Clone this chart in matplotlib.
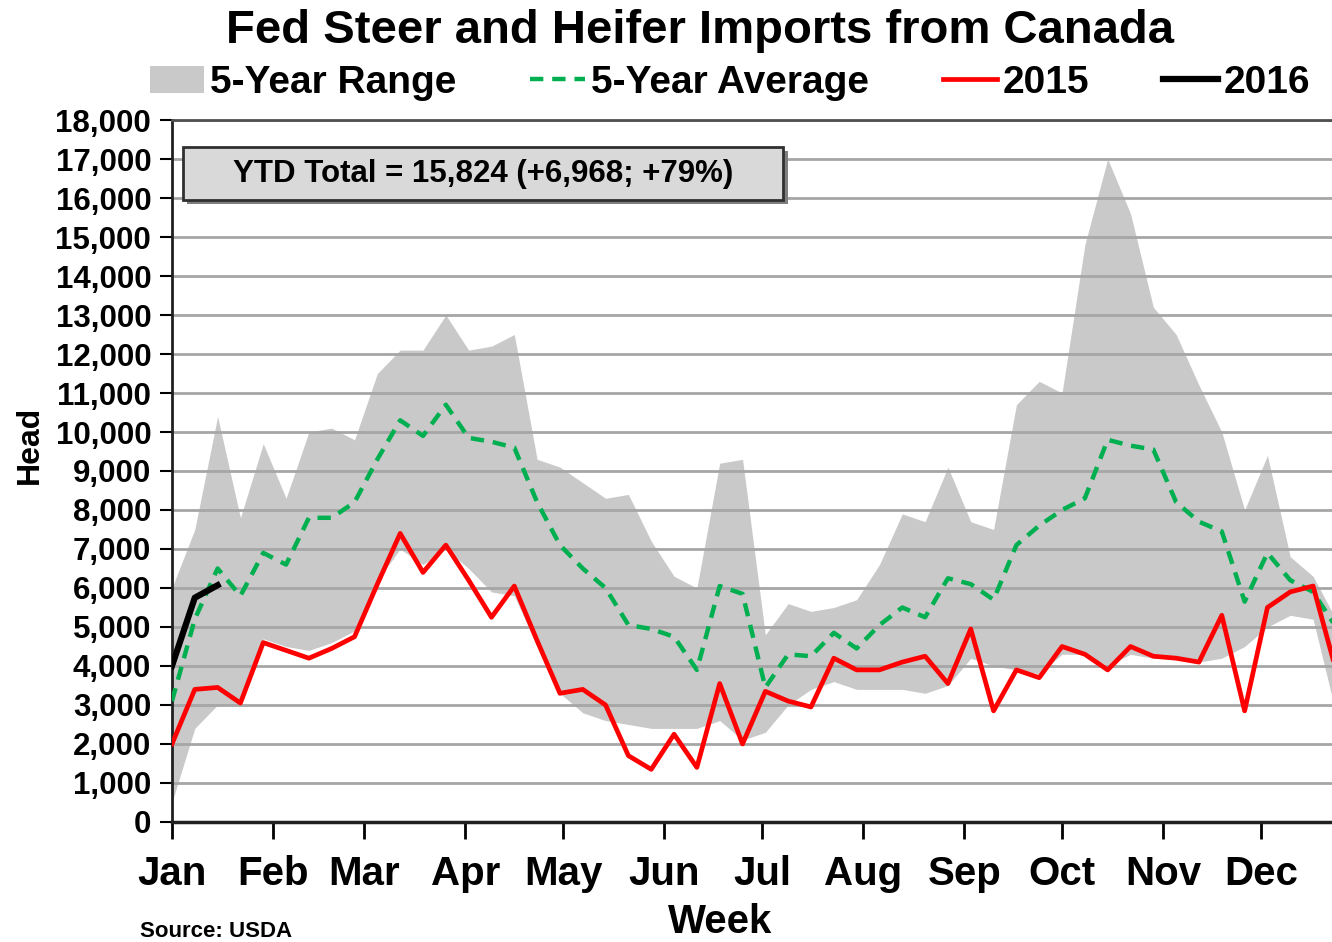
import matplotlib
matplotlib.use('Agg')
import matplotlib.pyplot as plt
from matplotlib.patches import Patch, Rectangle
from matplotlib.lines import Line2D

plt.rcParams['font.family'] = ['Liberation Sans', 'DejaVu Sans']

# weekly values (head), week 1 .. week 52
range_high = [6000, 7500, 10400, 7800, 9700, 8300, 10000, 10100, 9800, 11500,
              12100, 12100, 13000, 12100, 12200, 12500, 9300, 9100, 8700, 8300,
              8400, 7200, 6300, 6000, 9200, 9300, 4800, 5600, 5400, 5500,
              5700, 6600, 7900, 7700, 9100, 7700, 7500, 10700, 11300, 11000,
              14800, 17000, 15600, 13200, 12500, 11200, 10000, 8000, 9400, 6800,
              6300, 5200]
range_low = [500, 2400, 3000, 3000, 4700, 4500, 4400, 4600, 4900, 6200,
             7000, 6600, 7000, 6500, 5900, 5800, 4500, 3300, 2800, 2600,
             2500, 2400, 2400, 2400, 2600, 2100, 2300, 3000, 3400, 3600,
             3400, 3400, 3400, 3300, 3500, 4200, 4000, 3900, 3800, 4300,
             4300, 4000, 4300, 4200, 4200, 4100, 4200, 4500, 5000, 5300,
             5200, 2800]
avg_5yr = [3100, 5200, 6500, 5800, 6900, 6600, 7800, 7800, 8200, 9300,
           10300, 9900, 10700, 9850, 9750, 9600, 8200, 7100, 6500, 6000,
           5050, 4950, 4750, 3900, 6050, 5850, 3450, 4300, 4250, 4850,
           4450, 5050, 5500, 5250, 6250, 6100, 5700, 7100, 7600, 8000,
           8300, 9800, 9650, 9550, 8200, 7700, 7450, 5650, 6900, 6200,
           5900, 5000]
y2015 = [2000, 3400, 3450, 3050, 4600, 4400, 4200, 4450, 4750, 6100,
         7400, 6400, 7100, 6200, 5250, 6050, 4650, 3300, 3400, 3000,
         1700, 1350, 2250, 1400, 3550, 2000, 3350, 3100, 2950, 4200,
         3900, 3900, 4100, 4250, 3550, 4950, 2850, 3900, 3700, 4500,
         4300, 3900, 4500, 4250, 4200, 4100, 5300, 2850, 5500, 5900,
         6050, 3900]
y2016 = [4000, 5750, 6070]

months = ['Jan', 'Feb', 'Mar', 'Apr', 'May', 'Jun',
          'Jul', 'Aug', 'Sep', 'Oct', 'Nov', 'Dec']
month_start = [0, 31, 59, 90, 120, 151, 181, 212, 243, 273, 304, 334]

days = [7 * i for i in range(len(y2015))]
days16 = [7 * i for i in range(len(y2016))]

fig = plt.figure(figsize=(13.32, 9.42), dpi=100)
ax = fig.add_axes([0.1291, 0.1274, 0.8709, 0.7452])

ax.fill_between(days, range_low, range_high, color='#c9c9c9', lw=0, zorder=1)
ax.plot(days, avg_5yr, color='#00b050', lw=3.2, ls=(0, (3, 2)), zorder=3)
ax.plot(days, y2015, color='#ff0000', lw=3.4, zorder=4)
ax.plot(days16, y2016, color='black', lw=4.5, zorder=5)

ax.set_xlim(0, 355.8)
ax.set_ylim(0, 18000)
ax.set_yticks(range(0, 18001, 1000))
ax.set_yticklabels([f'{v:,}' for v in range(0, 18001, 1000)],
                   fontsize=22.5, fontweight='bold')
ax.set_xticks(month_start)
ax.set_xticklabels(months, fontsize=29, fontweight='bold')
ax.tick_params(axis='x', length=12, width=2, pad=12)
ax.tick_params(axis='y', length=9, width=1.5, pad=6)

ax.yaxis.grid(True, color='#a6a6a6', lw=2)
ax.spines['right'].set_visible(False)
ax.spines['top'].set_color('#505050')
ax.spines['top'].set_linewidth(2)
ax.spines['left'].set_linewidth(2)
ax.spines['bottom'].set_linewidth(2.5)
ax.spines['left'].set_color('#202020')
ax.spines['bottom'].set_color('#202020')

# YTD box
ax.add_patch(Rectangle((0.013, 0.880), 0.518, 0.076, transform=ax.transAxes,
                       facecolor='#7f7f7f', edgecolor='none', zorder=6,
                       clip_on=False))
ax.add_patch(Rectangle((0.0095, 0.886), 0.5175, 0.0755, transform=ax.transAxes,
                       facecolor='#d9d9d9', edgecolor='#303030', lw=2, zorder=7,
                       clip_on=False))
ax.text(0.268, 0.9235, 'YTD Total = 15,824 (+6,968; +79%)', transform=ax.transAxes,
        ha='center', va='center', fontsize=22.5, fontweight='bold', zorder=8)

fig.text(0.5255, 0.967, 'Fed Steer and Heifer Imports from Canada',
         ha='center', va='center', fontsize=34, fontweight='bold')
fig.text(0.0225, 0.5276, 'Head', rotation=90, ha='center', va='center',
         fontsize=23, fontweight='bold')
fig.text(0.5405, 0.021, 'Week', ha='center', va='center',
         fontsize=29, fontweight='bold')
fig.text(0.105, 0.011, 'Source: USDA', ha='left', va='center',
         fontsize=16, fontweight='bold')

handles = [Patch(facecolor='#c9c9c9', edgecolor='none'),
           Line2D([], [], color='#00b050', lw=3.2, ls=(0, (3, 2))),
           Line2D([], [], color='#ff0000', lw=3.4),
           Line2D([], [], color='black', lw=4.5)]
labels = ['5-Year Range', '5-Year Average', '2015', '2016']
fig.legend(handles, labels, loc='center', bbox_to_anchor=(0.548, 0.912), ncol=4,
           frameon=False, prop={'size': 28, 'weight': 'bold'}, handlelength=1.4,
           handletextpad=0.15, columnspacing=1.9)

fig.savefig('out.png', dpi=100)
